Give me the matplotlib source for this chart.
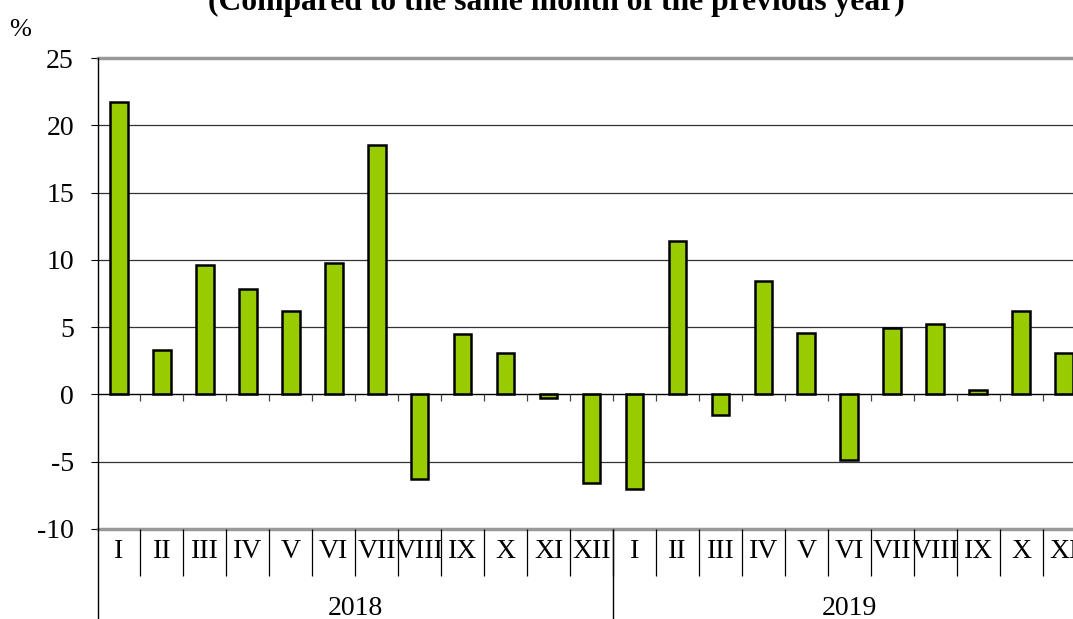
import numpy as np
import matplotlib.pyplot as plt
import matplotlib.transforms as mtransforms

plt.rcParams['font.family'] = ['Liberation Serif', 'DejaVu Serif']

# Data
months_2018 = ['I', 'II', 'III', 'IV', 'V', 'VI', 'VII', 'VIII', 'IX', 'X', 'XI', 'XII']
months_2019 = ['I', 'II', 'III', 'IV', 'V', 'VI', 'VII', 'VIII', 'IX', 'X', 'XI']
values_2018 = [21.7, 3.3, 9.6, 7.8, 6.2, 9.8, 18.5, -6.3, 4.5, 3.1, -0.3, -6.6]
values_2019 = [-7.0, 11.4, -1.5, 8.4, 4.6, -4.9, 4.9, 5.2, 0.3, 6.2, 3.1]
years = ['2018', '2019']
y_ticks = [-10, -5, 0, 5, 10, 15, 20, 25]

categories = months_2018 + months_2019
values = values_2018 + values_2019
x = np.arange(len(categories))
year_sizes = [len(months_2018), len(months_2019)]

W, H = 1073, 619
fig = plt.figure(figsize=(W / 100, H / 100), dpi=100)

# Axes extends past the right edge, as in the cropped original
left, right, top, bottom = 97.5, 1085.5, 58, 529
ax = fig.add_axes([left / W, 1 - bottom / H, (right - left) / W, (bottom - top) / H])

ax.set_xlim(-0.5, len(categories) - 0.5)
ax.set_ylim(-10, 25)

ax.bar(x, values, width=0.41, color='#99CC00', edgecolor='black', linewidth=1.8, zorder=3)

# Grid lines
for v in y_ticks:
    if v == 0:
        ax.axhline(v, color='black', linewidth=1.0, zorder=4)
    elif v in (-10, 25):
        ax.axhline(v, color='#999999', linewidth=2.5, zorder=2, clip_on=False)
    else:
        ax.axhline(v, color='#333333', linewidth=0.9, zorder=1)

for side in ['top', 'right', 'bottom']:
    ax.spines[side].set_visible(False)
ax.spines['left'].set_color('black')
ax.spines['left'].set_linewidth(1.0)

ax.set_yticks(y_ticks)
ax.set_yticklabels([str(v) for v in y_ticks])
ax.tick_params(axis='y', direction='out', length=5, width=0.8, pad=12, labelsize=20)
ax.set_xticks([])

# Small boundary ticks hanging under the zero line
boundaries = np.arange(len(categories) + 1) - 0.5
tick_len = 0.5
ax.vlines(boundaries[1:], -tick_len, 0, color='#444444', linewidth=0.9, zorder=4)

# Category table under the plot
trans = mtransforms.blended_transform_factory(ax.transData, ax.transAxes)
ax.vlines(boundaries[1:], -0.1, 0, transform=trans, color='black', linewidth=0.9, clip_on=False)
for xi, lab in zip(x, categories):
    ax.text(xi, -0.047, lab, transform=trans, ha='center', va='center', fontsize=20, clip_on=False)

start = 0
for yr, n in zip(years, year_sizes):
    ax.text(start + n / 2 - 0.5, -0.168, yr, transform=trans, ha='center', va='center',
            fontsize=20, clip_on=False)
    ax.vlines([start - 0.5], -0.2, 0, transform=trans, color='black', linewidth=1.0, clip_on=False)
    start += n

fig.text(556 / W, 1 - 10 / H, '(Compared to the same month of the previous year)',
         ha='center', va='baseline', fontsize=22.8, fontweight='bold')
fig.text(20 / W, 1 - 30 / H, '%', ha='center', va='center', fontsize=19)

fig.savefig('out.png', dpi=100)
